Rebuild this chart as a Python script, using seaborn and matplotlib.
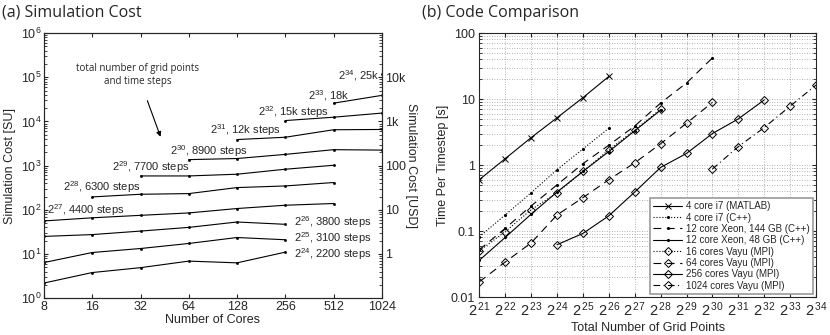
import numpy as np
import matplotlib
matplotlib.use("Agg")
import matplotlib.pyplot as plt
import matplotlib.ticker as mticker
import seaborn as sns

# ---- (a) simulation cost, SU per run, by grid size ----
cores = [8, 16, 32, 64, 128, 256, 512, 1024]

cost_24 = [2.2, 3.8, 4.9, 6.9, 6.3, 11]
cost_25 = [6.4, 10.8, 13.3, 17.3, 23.6, 21]
cost_26 = [25, 27.5, 33, 40, 53, 47]
cost_27 = [56, 66, 75, 85, 107, 127, 139]
cost_28 = [196, 225, 233, 319, 347, 415]
cost_29 = [585, 585, 640, 830, 1020]
cost_30 = [1370, 1450, 1800, 2300, 2250]
cost_31 = [3900, 4400, 6500, 6600]
cost_32 = [10500, 12500, 15500]
cost_33 = [26000, 39000]
cost_34 = [117000]

cost_series = [cost_24, cost_25, cost_26, cost_27, cost_28, cost_29,
               cost_30, cost_31, cost_32, cost_33, cost_34]
cost_first_core = [8, 8, 8, 8, 16, 32, 64, 128, 256, 512, 1024]
cost_labels = [
    "$2^{24}$, 2200 steps", "$2^{25}$, 3100 steps", "$2^{26}$, 3800 steps",
    "$2^{27}$, 4400 steps", "$2^{28}$, 6300 steps", "$2^{29}$, 7700 steps",
    "$2^{30}$, 8900 steps", "$2^{31}$, 12k steps", "$2^{32}$, 15k steps",
    "$2^{33}$, 18k", "$2^{34}$, 25k",
]
usd_ticks = [1, 10, 100, 1000, 10000]
usd_labels = ["1", "10", "100", "1k", "10k"]

# ---- (b) code comparison, seconds per timestep ----
matlab_exp = [21, 22, 23, 24, 25, 26]
matlab_t = [0.6, 1.25, 2.6, 5.2, 10.5, 22]
i7cpp_exp = [21, 22, 23, 24, 25, 26]
i7cpp_t = [0.082, 0.175, 0.38, 0.85, 1.75, 3.6]
xeon144_exp = [21, 22, 23, 24, 25, 26, 27, 28, 29, 30]
xeon144_t = [0.052, 0.11, 0.24, 0.5, 1.05, 2.0, 3.9, 8.7, 17.5, 42]
xeon48_exp = [21, 22, 23, 24, 25, 26, 27, 28]
xeon48_t = [0.036, 0.08, 0.18, 0.39, 0.8, 1.6, 3.3, 6.8]
vayu16_exp = [21, 22, 23, 24, 25, 26, 27, 28]
vayu16_t = [0.05, 0.098, 0.21, 0.38, 0.8, 1.7, 3.4, 7.0]
vayu64_exp = [21, 22, 23, 24, 25, 26, 27, 28, 29, 30]
vayu64_t = [0.017, 0.034, 0.066, 0.175, 0.32, 0.6, 1.08, 2.1, 4.3, 8.9]
vayu256_exp = [24, 25, 26, 27, 28, 29, 30, 31, 32]
vayu256_t = [0.062, 0.092, 0.17, 0.39, 0.92, 1.5, 3.0, 5.0, 9.7]
vayu1024_exp = [30, 31, 32, 33, 34]
vayu1024_t = [0.87, 1.9, 3.7, 7.8, 16.3]

grid_exps = [21, 22, 23, 24, 25, 26, 27, 28, 29, 30, 31, 32, 33, 34]

codes = [
    ("4 core i7 (MATLAB)", matlab_exp, matlab_t, "-", "x"),
    ("4 core i7 (C++)", i7cpp_exp, i7cpp_t, ":", "."),
    ("12 core Xeon, 144 GB (C++)", xeon144_exp, xeon144_t, (0, (7, 5)), "."),
    ("12 core Xeon, 48 GB (C++)", xeon48_exp, xeon48_t, "-", "."),
    ("16 cores Vayu (MPI)", vayu16_exp, vayu16_t, ":", "D"),
    ("64 cores Vayu (MPI)", vayu64_exp, vayu64_t, (0, (7, 5)), "D"),
    ("256 cores Vayu (MPI)", vayu256_exp, vayu256_t, "-", "D"),
    ("1024 cores Vayu (MPI)", vayu1024_exp, vayu1024_t, (0, (6, 3, 1, 3)), "D"),
]

sns.set_style("ticks", {"xtick.direction": "in", "ytick.direction": "in"})
plt.rcParams["font.family"] = ["Liberation Sans", "DejaVu Sans"]
plt.rcParams["mathtext.fontset"] = "custom"
plt.rcParams["mathtext.rm"] = "Liberation Sans"
plt.rcParams["mathtext.it"] = "Liberation Sans:italic"
title_font = ["Open Sans", "DejaVu Sans"]

fig = plt.figure(figsize=(8.3, 3.35), dpi=100)
ax = fig.add_axes([0.053, 0.110, 0.407, 0.791])
bx = fig.add_axes([0.5775, 0.1134, 0.4057, 0.788])

# ---------- panel (a) ----------
for vals, first in zip(cost_series, cost_first_core):
    xs = cores[cores.index(first):cores.index(first) + len(vals)]
    sns.lineplot(x=xs, y=vals, ax=ax, color="k", lw=0.8, marker=".",
                 markersize=3, mec="k", mew=0.5)

ax.set_xscale("log", base=2)
ax.set_yscale("log")
ax.set_xlim(8, 1024)
ax.set_ylim(1, 1e6)
ax.set_xticks(cores)
ax.xaxis.set_major_formatter(mticker.FixedFormatter([str(c) for c in cores]))
ax.xaxis.set_minor_locator(mticker.NullLocator())
ax.yaxis.set_major_formatter(mticker.LogFormatterMathtext())
ax.tick_params(which="both", top=True, right=False, labelsize=9, length=3, pad=2)
ax.tick_params(which="minor", length=2)
ax.set_xlabel("Number of Cores", fontsize=9, labelpad=1)
ax.set_ylabel("Simulation Cost [SU]", fontsize=9, labelpad=3)
for s in ax.spines.values():
    s.set_linewidth(0.8)

ax2 = ax.twinx()
ax2.set_yscale("log")
ax2.set_ylim(0.1, 1e5)
ax2.set_yticks(usd_ticks)
ax2.yaxis.set_major_formatter(mticker.FixedFormatter(usd_labels))
ax2.tick_params(which="both", direction="in", labelsize=9, length=3, pad=2)
ax2.tick_params(which="minor", length=2)
ax2.set_ylabel("Simulation Cost [USD]", rotation=270, fontsize=9, labelpad=8)

label_pos = [(0.740, 0.166, "left"), (0.740, 0.226, "left"), (0.740, 0.287, "left"),
             (0.009, 0.332, "left"), (0.056, 0.419, "left"), (0.201, 0.494, "left"),
             (0.373, 0.555, "left"), (0.491, 0.634, "left"), (0.633, 0.702, "left"),
             (0.781, 0.766, "left"), (0.994, 0.838, "right")]
for text, (px, py, ha) in zip(cost_labels, label_pos):
    ax.text(px, py, text, transform=ax.transAxes, ha=ha, va="center", fontsize=8)

ax.annotate("total number of grid points\nand time steps",
            xy=(0.345, 0.609), xytext=(0.278, 0.843), xycoords="axes fraction",
            textcoords="axes fraction", ha="center", va="center", fontsize=7,
            family=title_font, linespacing=1.3,
            arrowprops=dict(arrowstyle="-|>", color="k", lw=0.8, shrinkA=8, shrinkB=0,
                            mutation_scale=7))

fig.text(0.003, 0.962, "(a) Simulation Cost", fontsize=11.5, family=title_font, va="center")

# ---------- panel (b) ----------
for name, exps, times, ls, mk in codes:
    xs = [2.0 ** e for e in exps]
    ms = {"D": 4.5, "x": 5, ".": 3}[mk]
    sns.lineplot(x=xs, y=times, ax=bx, color="k", lw=0.8, linestyle=ls, marker=mk,
                 markersize=ms, mec="k", mfc="none" if mk == "D" else "k",
                 mew=0.7, label=name)

bx.set_xscale("log", base=2)
bx.set_yscale("log")
bx.set_xlim(2.0 ** 21, 2.0 ** 34)
bx.set_ylim(0.01, 100)
bx.set_xticks([2.0 ** e for e in grid_exps])
bx.xaxis.set_major_formatter(mticker.FixedFormatter(
    ["$2^{\\,%d}$" % e for e in grid_exps]))
bx.xaxis.set_minor_locator(mticker.NullLocator())
bx.set_yticks([0.01, 0.1, 1, 10, 100])
bx.yaxis.set_major_formatter(mticker.FixedFormatter(["0.01", "0.1", "1", "10", "100"]))
bx.tick_params(which="both", top=True, right=True, length=3)
bx.tick_params(axis="y", labelsize=9, pad=3)
bx.tick_params(axis="x", labelsize=10.5, pad=2.5)
bx.tick_params(which="minor", length=2)
bx.grid(True, which="both", linestyle=(0, (1, 2)), color="0.6", linewidth=0.6)
bx.set_xlabel("Total Number of Grid Points", fontsize=9, labelpad=2)
bx.set_ylabel("Time Per Timestep [s]", fontsize=9, labelpad=1)
for s in bx.spines.values():
    s.set_linewidth(0.8)

leg = bx.legend(loc="lower right", fontsize=7, frameon=True, fancybox=False,
                framealpha=1, edgecolor="0.6", handlelength=3.0, labelspacing=0.14,
                borderpad=0.35, handletextpad=0.4, borderaxespad=0.3)
leg.get_frame().set_linewidth(1.2)

fig.text(0.508, 0.962, "(b) Code Comparison", fontsize=11.5, family=title_font, va="center")

fig.savefig("out.png", dpi=100)
